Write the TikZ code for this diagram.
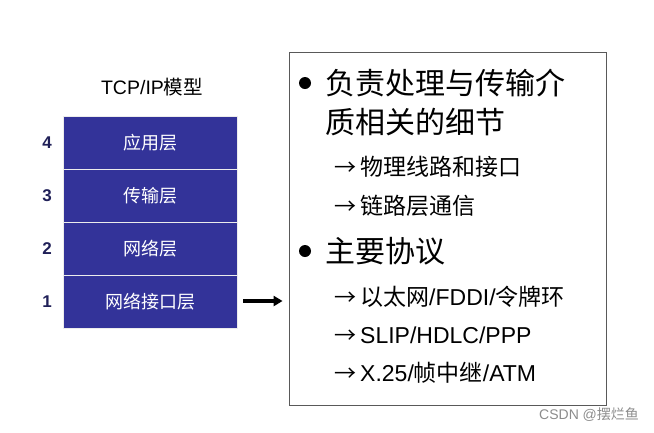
\documentclass[tikz,border=0pt]{standalone}
\usepackage{fontspec}
\setmainfont{Liberation Sans}
\newfontfamily\cjk{Noto Sans CJK SC}
\usetikzlibrary{arrows.meta}
\definecolor{layerblue}{HTML}{333399}
\definecolor{numblue}{HTML}{202058}
\newcommand{\subarrow}{{\cjk\fontsize{22}{22}\selectfont →}\hspace{4pt}}
\tikzset{
  layer/.style = {rectangle, draw = white!85!gray, fill = layerblue, text = white,
                  minimum width = 174pt, minimum height = 53pt, inner sep = 0pt,
                  font = \cjk\fontsize{18}{18}\selectfont},
  num/.style = {text = numblue, font = \bfseries\fontsize{17}{17}\selectfont},
  big/.style = {anchor = west, inner sep = 0pt, font = \cjk\fontsize{30}{30}\selectfont},
  sub/.style = {anchor = west, inner sep = 0pt, font = \fontsize{23}{23}\selectfont}
}
\begin{document}
\begin{tikzpicture}[x = 1pt, y = -1pt]
  \useasboundingbox (0,0) rectangle (654,432);
  \node [font = \fontsize{19.5}{19.5}\selectfont] (title) at (152,87) {TCP/IP{\cjk 模型}};
  % layer stack
  \node [layer] (l4) at (150,143) {应用层};
  \node [layer] (l3) at (150,196) {传输层};
  \node [layer] (l2) at (150,249) {网络层};
  \node [layer] (l1) at (150,302) {网络接口层};
  \node [num] (n4) at (47,143) {4};
  \node [num] (n3) at (47,196) {3};
  \node [num] (n2) at (47,249) {2};
  \node [num] (n1) at (47,302) {1};
  % details
  \node [draw = black!65, fill = white, line width = .8pt, inner sep = 0pt,
         minimum width = 317pt, minimum height = 353pt] (detail) at (447.5,228.5) {};
  \draw [line width = 3.2pt, -{Triangle[length = 9pt, width = 10pt]}, shorten > = 6pt]
    ([xshift = 6pt]l1.east |- 0,301) -- (detail.west |- 0,301);
  \fill (305,83) circle (6);
  \node [big] (d1) at (325,83) {负责处理与传输介};
  \node [big] (d2) at (325,122) {质相关的细节};
  \node [sub] (s1) at (334,167) {\subarrow{\cjk 物理线路和接口}};
  \node [sub] (s2) at (334,206) {\subarrow{\cjk 链路层通信}};
  \fill (305,251) circle (6);
  \node [big] (d3) at (325,251) {主要协议};
  \node [sub] (s3) at (334,297) {\subarrow{\cjk 以太网}/FDDI/{\cjk 令牌环}};
  \node [sub] (s4) at (334,335) {\subarrow SLIP/HDLC/PPP};
  \node [sub] (s5) at (334,373) {\subarrow X.25/{\cjk 帧中继}/ATM};
  \node [anchor = west, text = black!45, inner sep = 0pt,
         font = \fontsize{14}{14}\selectfont] (mark) at (539,415) {CSDN @{\cjk 摆烂鱼}};
\end{tikzpicture}
\end{document}
